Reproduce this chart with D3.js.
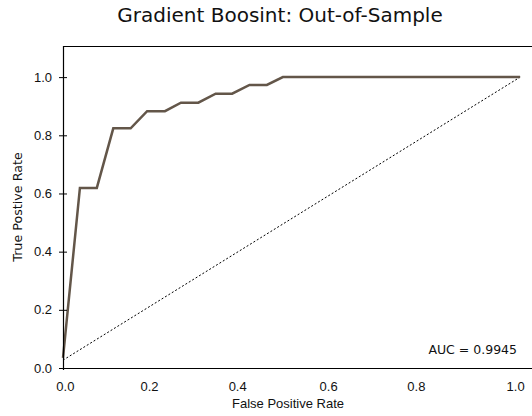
<!DOCTYPE html>
<html>
<head>
<meta charset="utf-8">
<script src="https://cdn.jsdelivr.net/npm/d3@7"></script>
<style>
  body { margin: 0; background: #fff; }
  svg { font-family: "DejaVu Sans", Verdana, sans-serif; display: block; }
</style>
</head>
<body>
<div id="wrapper"></div>
<script>
// ROC curve points
const fprValues = [0, 0.037, 0.074, 0.110, 0.148, 0.184, 0.223, 0.258, 0.296, 0.334, 0.370, 0.408, 0.446, 0.481, 1.0]
const tprValues = [0.035, 0.619, 0.619, 0.824, 0.824, 0.883, 0.883, 0.912, 0.912, 0.943, 0.943, 0.973, 0.973, 1.0, 1.0]

const chanceX = [0, 1]
const chanceY = [0.027, 1]

const xTicks = [0, 0.2, 0.4, 0.6, 0.8, 1.0]
const yTicks = [0, 0.2, 0.4, 0.6, 0.8, 1.0]
// x tick labels sit a bit off the data scale in the original
const xLabelSpots = [0.004, 0.188, 0.381, 0.580, 0.772, 0.989]

const titleText = "Gradient Boosint: Out-of-Sample"
const aucText = "AUC = 0.9945"

function drawRoc(){
    const rocData = fprValues.map((x, i) => ({x: x, y: tprValues[i]}))
    const chanceData = chanceX.map((x, i) => ({x: x, y: chanceY[i]}))

    const xAccessor = d => d.x
    const yAccessor = d => d.y

    let dimensions = {
        width: 532,
        height: 416,
        margin: {
            top: 46,
            right: 0,
            bottom: 48,
            left: 63,
        },
    }
    dimensions.boundedWidth = dimensions.width - dimensions.margin.left - dimensions.margin.right
    dimensions.boundedHeight = dimensions.height - dimensions.margin.top - dimensions.margin.bottom

    const wrapper = d3.select("#wrapper")
        .append("svg")
        .attr("width", dimensions.width)
        .attr("height", dimensions.height)

    const bounds = wrapper.append("g")
        .attr("transform", `translate(${dimensions.margin.left},${dimensions.margin.top})`)

    const xScale = d3.scaleLinear()
        .domain([0, 1.026])
        .range([0, dimensions.boundedWidth])

    const yScale = d3.scaleLinear()
        .domain([0, 1.107])
        .range([dimensions.boundedHeight, 0])

    const xLabelScale = d3.scaleLinear()
        .domain(xTicks)
        .range(xLabelSpots.map(v => xScale(v)))

    // frame: top line
    bounds.append("line")
        .attr("x1", 0)
        .attr("x2", dimensions.boundedWidth)
        .attr("y1", 0.5)
        .attr("y2", 0.5)
        .attr("stroke", "black")
        .attr("stroke-width", 1.2)

    // chance diagonal
    const line = d3.line()
        .x(d => xScale(xAccessor(d)))
        .y(d => yScale(yAccessor(d)))

    bounds.append("path")
        .datum(chanceData)
        .attr("d", line)
        .attr("fill", "none")
        .attr("stroke", "black")
        .attr("stroke-width", 1)
        .attr("stroke-dasharray", "2,2")

    bounds.append("path")
        .datum(rocData)
        .attr("d", line)
        .attr("fill", "none")
        .attr("stroke", "#635649")
        .attr("stroke-width", 2.5)
        .attr("stroke-linejoin", "miter")

    // y axis
    const yAxisGenerator = d3.axisLeft()
        .scale(yScale)
        .tickValues(yTicks)
        .tickFormat(d3.format(".1f"))
        .tickSizeOuter(0)
        .tickSizeInner(4)
        .tickPadding(7)

    const yAxis = bounds.append("g")
        .call(yAxisGenerator)
    yAxis.select(".domain")
        .attr("stroke-width", 1.2)
        .attr("d", `M0.5,0V${dimensions.boundedHeight + 2}`)
    yAxis.selectAll(".tick line")
        .attr("x1", 4)
        .attr("x2", -4)
    yAxis.selectAll(".tick text")
        .attr("x", -11)
        .style("font-size", "13px")
        .attr("fill", "#111")

    // x axis
    const xAxisGenerator = d3.axisBottom()
        .scale(xLabelScale)
        .tickValues(xTicks)
        .tickFormat(d3.format(".1f"))
        .tickSize(0)
        .tickPadding(14)

    const xAxis = bounds.append("g")
        .call(xAxisGenerator)
        .attr("transform", `translate(0,${dimensions.boundedHeight})`)
    xAxis.select(".domain")
        .attr("stroke-width", 1.2)
        .attr("d", `M0,0.5H${dimensions.boundedWidth}`)
    xAxis.selectAll(".tick text")
        .style("font-size", "13px")
        .attr("fill", "#111")

    xAxis.append("text")
        .attr("x", 225)
        .attr("y", 40)
        .attr("fill", "#111")
        .attr("text-anchor", "middle")
        .style("font-size", "13px")
        .text("False Positive Rate")

    bounds.append("text")
        .attr("transform", `translate(${22 - dimensions.margin.left},${207 - dimensions.margin.top}) rotate(-90)`)
        .attr("text-anchor", "middle")
        .attr("fill", "#111")
        .style("font-size", "12.7px")
        .text("True Postive Rate")

    bounds.append("text")
        .attr("x", 517 - dimensions.margin.left)
        .attr("y", 354 - dimensions.margin.top)
        .attr("text-anchor", "end")
        .attr("fill", "#111")
        .style("font-size", "12.5px")
        .text(aucText)

    wrapper.append("text")
        .attr("x", 280)
        .attr("y", 22)
        .attr("text-anchor", "middle")
        .attr("fill", "#111")
        .style("font-size", "20px")
        .text(titleText)
}

drawRoc()
</script>
</body>
</html>
